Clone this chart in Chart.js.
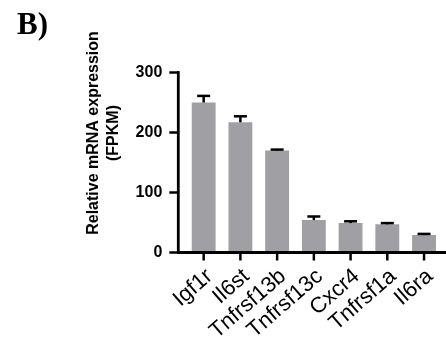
<!DOCTYPE html>
<html><head><meta charset="utf-8">
<script src="https://cdn.jsdelivr.net/npm/chart.js@4"></script>
<style>html,body{margin:0;padding:0;background:#fff;}canvas{display:block;}</style>
</head><body>
<canvas id="c" width="446" height="345"></canvas>
<script>
const panelLabel = 'B)';
const categories = ['Igf1r','Il6st','Tnfrsf13b','Tnfrsf13c','Cxcr4','Tnfrsf1a','Il6ra'];
const means = [250,217,170,54,49,47,29];
const errors = [11,10,1.5,6,3,2,2];
const yTicks = [0,100,200,300];
const yTitle = ['Relative mRNA expression','(FPKM)'];

const AXIS_GAP = 7;
const decor = {
  id:'decor',
  afterDatasetsDraw(chart){
    const ctx = chart.ctx, xs = chart.scales.x, ys = chart.scales.y;
    ctx.save();
    ctx.strokeStyle='#000'; ctx.lineWidth=2.5; ctx.lineCap='butt';
    means.forEach((m,i)=>{
      const px = xs.getPixelForValue(i);
      const pTop = ys.getPixelForValue(m+errors[i]);
      const pM = ys.getPixelForValue(m);
      ctx.beginPath(); ctx.moveTo(px,pM); ctx.lineTo(px,pTop); ctx.stroke();
      ctx.beginPath(); ctx.moveTo(px-6.5,pTop); ctx.lineTo(px+6.5,pTop); ctx.stroke();
    });
    const y0 = ys.getPixelForValue(0), yT = ys.getPixelForValue(yTicks[yTicks.length-1]);
    const ax = chart.chartArea.left - AXIS_GAP;
    ctx.lineWidth=2.8;
    ctx.beginPath(); ctx.moveTo(ax, yT-1.4); ctx.lineTo(ax, y0); ctx.stroke();
    ctx.beginPath(); ctx.moveTo(ax-1.4, y0); ctx.lineTo(chart.width, y0); ctx.stroke();
    ctx.lineWidth=2.5;
    yTicks.forEach(v=>{const p=ys.getPixelForValue(v); ctx.beginPath(); ctx.moveTo(ax-9,p); ctx.lineTo(ax,p); ctx.stroke();});
    categories.forEach((c,i)=>{const p=xs.getPixelForValue(i); ctx.beginPath(); ctx.moveTo(p,y0); ctx.lineTo(p,y0+8); ctx.stroke();});
    ctx.fillStyle='#000';
    ctx.font='bold 16px "Liberation Sans", Arial, sans-serif';
    ctx.textAlign='center'; ctx.textBaseline='middle';
    ctx.save(); ctx.translate(94,133); ctx.rotate(-Math.PI/2); ctx.fillText(yTitle[0],0,0); ctx.restore();
    ctx.save(); ctx.translate(114,133); ctx.rotate(-Math.PI/2); ctx.fillText(yTitle[1],0,0); ctx.restore();
    ctx.font='bold 31px "Liberation Serif", "Times New Roman", serif';
    ctx.textAlign='left'; ctx.textBaseline='alphabetic';
    ctx.fillText(panelLabel,17,34);
    ctx.restore();
  }
};

new Chart(document.getElementById('c'),{
  type:'bar',
  data:{labels:categories,datasets:[{data:means,backgroundColor:'#a0a0a4',borderWidth:0,categoryPercentage:1,barPercentage:0.65}]},
  options:{
    responsive:false,animation:false,devicePixelRatio:1,
    layout:{padding:{left:0,right:3.6,top:72.5,bottom:0}},
    plugins:{legend:{display:false},tooltip:{enabled:false}},
    scales:{
      x:{offset:true,grid:{display:false},border:{display:false},
        afterFit(s){s.height=345-252.5;},
        ticks:{minRotation:41,maxRotation:41,padding:3,labelOffset:6,color:'#000',autoSkip:false,
          font:{family:'"Liberation Sans", Arial, sans-serif',size:22}}},
      y:{min:0,max:300,grid:{display:false},border:{display:false},
        afterFit(s){s.width=185.3;},
        afterBuildTicks(s){s.ticks=yTicks.map(v=>({value:v}));},
        ticks:{padding:15,color:'#000',font:{family:'"Liberation Sans", Arial, sans-serif',size:16,weight:'bold'}}}
    }
  },
  plugins:[decor]
});
</script>
</body></html>
